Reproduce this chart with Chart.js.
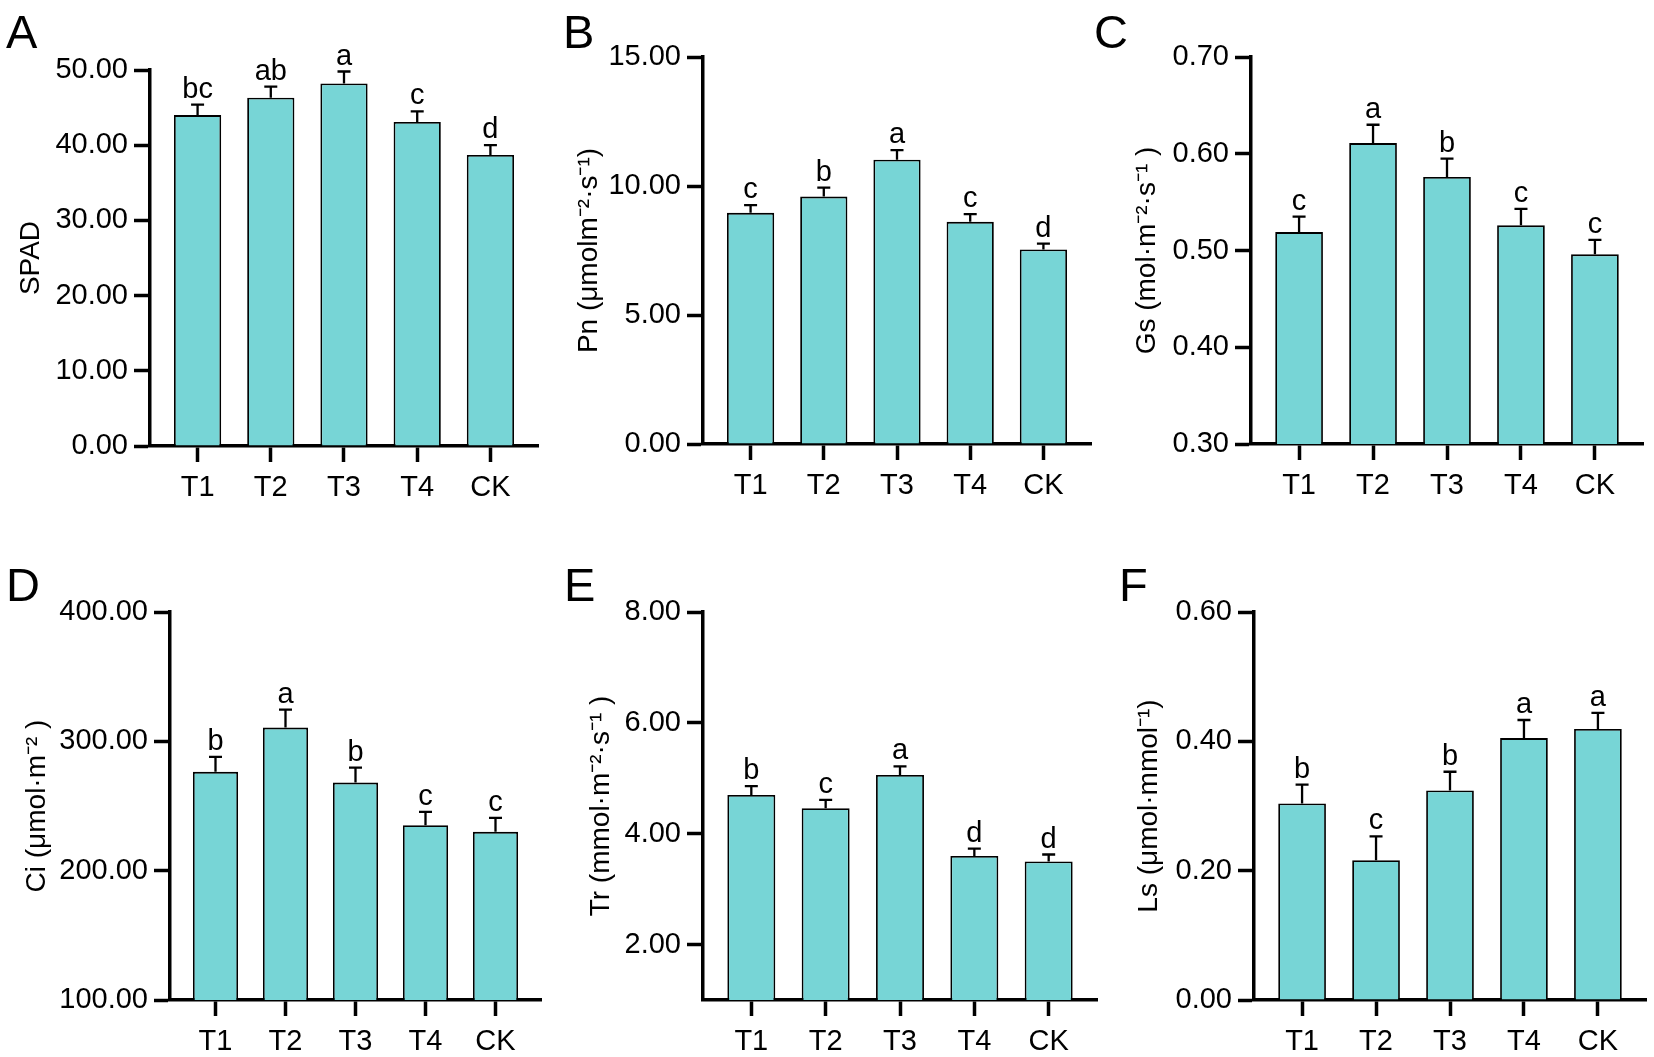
<!DOCTYPE html>
<html>
<head>
<meta charset="utf-8">
<script src="https://cdn.jsdelivr.net/npm/chart.js@4.4.1/dist/chart.umd.min.js"></script>
<style>
html,body{margin:0;padding:0;background:#fff;}
#wrap{position:relative;width:1654px;height:1057px;overflow:hidden;background:#fff;}
#wrap canvas{position:absolute;left:0;top:0;}
</style>
</head>
<body>
<div id="wrap"></div>
<script>
// ---------------- data ----------------
const categories = ['T1', 'T2', 'T3', 'T4', 'CK'];
const panelLetters = ['A', 'B', 'C', 'D', 'E', 'F'];
const yTitles = ['SPAD', 'Pn (μmolm⁻²·s⁻¹)', 'Gs (mol·m⁻²·s⁻¹ )', 'Ci (μmol·m⁻² )', 'Tr (mmol·m⁻²·s⁻¹ )', 'Ls (μmol·mmol⁻¹)'];

const spadMean = [44.0, 46.3, 48.2, 43.1, 38.7];
const spadErr  = [1.4, 1.5, 1.6, 1.4, 1.3];
const spadSig  = ['bc', 'ab', 'a', 'c', 'd'];
const spadTicks = [0, 10, 20, 30, 40, 50];
const spadRange = [0, 50];

const pnMean = [8.96, 9.59, 11.02, 8.61, 7.54];
const pnErr  = [0.30, 0.35, 0.37, 0.30, 0.23];
const pnSig  = ['c', 'b', 'a', 'c', 'd'];
const pnTicks = [0, 5, 10, 15];
const pnRange = [0, 15];

const gsMean = [0.519, 0.611, 0.576, 0.526, 0.496];
const gsErr  = [0.016, 0.019, 0.019, 0.017, 0.015];
const gsSig  = ['c', 'a', 'b', 'c', 'c'];
const gsTicks = [0.3, 0.4, 0.5, 0.6, 0.7];
const gsRange = [0.3, 0.7];

const ciMean = [276.4, 310.6, 268.1, 235.2, 230.0];
const ciErr  = [11.6, 13.9, 11.6, 10.3, 10.8];
const ciSig  = ['b', 'a', 'b', 'c', 'c'];
const ciTicks = [100, 200, 300, 400];
const ciRange = [100, 400];

const trMean = [4.70, 4.46, 5.06, 3.60, 3.50];
const trErr  = [0.16, 0.15, 0.155, 0.13, 0.125];
const trSig  = ['b', 'c', 'a', 'd', 'd'];
const trTicks = [2, 4, 6, 8];
const trRange = [1, 8];

const lsMean = [0.304, 0.216, 0.324, 0.405, 0.419];
const lsErr  = [0.029, 0.037, 0.029, 0.028, 0.025];
const lsSig  = ['b', 'c', 'b', 'a', 'a'];
const lsTicks = [0, 0.2, 0.4, 0.6];
const lsRange = [0, 0.6];

// ---------------- layout (pixels on the 1654x1057 page) ----------------
const W = 1654, H = 1057;
const panelLayout = [
  {L:150,  R:538,  T:70,  B:446,  titleX:31,   letterX:6,    letterY:48},
  {L:703,  R:1091, T:57,  B:444,  titleX:589,  letterX:563,  letterY:48},
  {L:1251, R:1643, T:57,  B:444,  titleX:1147, letterX:1094, letterY:48},
  {L:170,  R:541,  T:612, B:1000, titleX:37,   letterX:6,    letterY:601},
  {L:703,  R:1097, T:612, B:1000, titleX:601,  letterX:564,  letterY:601},
  {L:1254, R:1646, T:612, B:1000, titleX:1149, letterX:1119, letterY:601}
];

const panelData = [
  {mean:spadMean, err:spadErr, sig:spadSig, ticks:spadTicks, range:spadRange},
  {mean:pnMean,   err:pnErr,   sig:pnSig,   ticks:pnTicks,   range:pnRange},
  {mean:gsMean,   err:gsErr,   sig:gsSig,   ticks:gsTicks,   range:gsRange},
  {mean:ciMean,   err:ciErr,   sig:ciSig,   ticks:ciTicks,   range:ciRange},
  {mean:trMean,   err:trErr,   sig:trSig,   ticks:trTicks,   range:trRange},
  {mean:lsMean,   err:lsErr,   sig:lsSig,   ticks:lsTicks,   range:lsRange}
];

const FONT = "'Liberation Sans', Arial, Helvetica, sans-serif";
Chart.defaults.font.family = FONT;
Chart.defaults.color = '#000';

const BAR_COLOR = '#77D5D6';
const AXIS_W = 3.5;

function makePanel(idx) {
  const p = panelLayout[idx];
  const d = panelData[idx];
  const cv = document.createElement('canvas');
  cv.width = W; cv.height = H;
  cv.style.width = W + 'px'; cv.style.height = H + 'px';
  document.getElementById('wrap').appendChild(cv);

  const annot = {
    id: 'annot' + idx,
    afterDatasetsDraw(chart) {
      const ctx = chart.ctx;
      const xs = chart.scales.x, ys = chart.scales.y;
      ctx.save();
      ctx.strokeStyle = '#000';
      ctx.lineWidth = 2.3;
      ctx.fillStyle = '#000';
      ctx.font = '29px ' + FONT;
      ctx.textAlign = 'center';
      ctx.textBaseline = 'alphabetic';
      d.mean.forEach((m, i) => {
        const x = xs.getPixelForValue(i + 1);
        const y0 = ys.getPixelForValue(m);
        const y1 = ys.getPixelForValue(m + d.err[i]);
        ctx.beginPath();
        ctx.moveTo(x, y0); ctx.lineTo(x, y1);
        ctx.moveTo(x - 6.5, y1); ctx.lineTo(x + 6.5, y1);
        ctx.stroke();
        ctx.fillText(d.sig[i], x, y1 - 7);
      });
      ctx.font = '47px ' + FONT;
      ctx.textAlign = 'left';
      ctx.fillText(panelLetters[idx], p.letterX, p.letterY);
      ctx.restore();
    }
  };

  const gridOpts = {display:true, offset:false, drawOnChartArea:false, drawTicks:true, tickLength:16, tickWidth:AXIS_W, tickColor:'#000'};
  const borderOpts = {display:true, color:'#000', width:AXIS_W};

  new Chart(cv.getContext('2d'), {
    type: 'bar',
    data: {
      datasets: [{
        data: d.mean.map((v, i) => ({x: i + 1, y: v})),
        backgroundColor: BAR_COLOR,
        borderColor: '#000',
        borderWidth: 1.8,
        borderSkipped: 'start',
        categoryPercentage: 1,
        barPercentage: 0.645
      }]
    },
    options: {
      responsive: false,
      animation: false,
      events: [],
      layout: {padding: {left: 0, top: p.T, right: W - p.R, bottom: 0}},
      plugins: {legend: {display: false}, tooltip: {enabled: false}, title: {display: false}},
      scales: {
        x: {
          type: 'linear', offset: false, min: 0.35, max: 5.65, z: 1,
          afterBuildTicks: s => { s.ticks = categories.map((c, i) => ({value: i + 1})); },
          afterFit: s => { s.height = H - p.B; },
          grid: gridOpts, border: borderOpts,
          ticks: {
            callback: v => categories[Math.round(v) - 1] || '',
            color: '#000', font: {size: 29}, padding: 9, maxRotation: 0, autoSkip: false
          }
        },
        y: {
          type: 'linear', min: d.range[0], max: d.range[1], z: 1,
          afterBuildTicks: s => { s.ticks = d.ticks.map(v => ({value: v})); },
          afterFit: s => { s.width = p.L; },
          grid: gridOpts, border: borderOpts,
          ticks: {callback: v => Number(v).toFixed(2), color: '#000', font: {size: 29}, padding: 6},
          title: {display: true, text: yTitles[idx], color: '#000', font: {size: 28}, padding: {top: p.titleX - 17, bottom: 0}}
        }
      }
    },
    plugins: [annot]
  });
}

for (let i = 0; i < 6; i++) makePanel(i);
</script>
</body>
</html>
